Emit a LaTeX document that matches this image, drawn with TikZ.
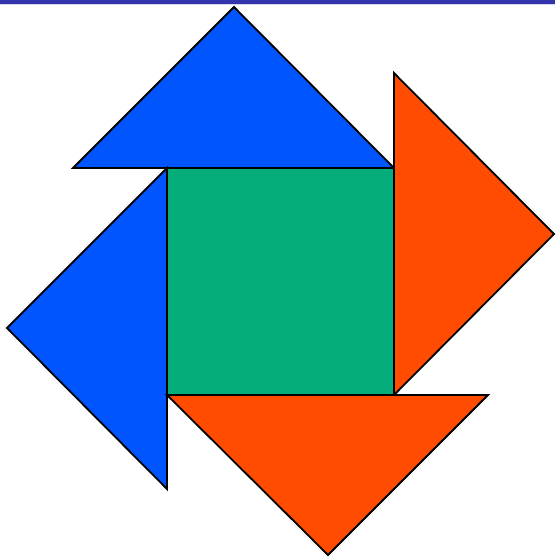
\documentclass[tikz,border=0pt]{standalone}
\definecolor{tblue}{HTML}{0055FF}
\definecolor{torange}{HTML}{FF4C00}
\definecolor{tgreen}{HTML}{05AD7A}
\definecolor{tbar}{HTML}{3333AA}
\tikzset{piece/.style={draw=black,line width=1.8pt,line join=miter}}
\begin{document}
\begin{tikzpicture}[x=1pt,y=-1pt]
\useasboundingbox (0,0) rectangle (555,557);
\fill[tbar] (0,0) rectangle (555,4);
\fill[tbar!20] (0,4) rectangle (555,5);
% top triangle
\filldraw[piece,fill=tblue] (73,168) -- (234,7) -- (394,168) -- cycle;
% left triangle
\filldraw[piece,fill=tblue] (167,168) -- (7,328) -- (167,489) -- cycle;
% right triangle
\filldraw[piece,fill=torange] (394,73) -- (554,234) -- (394,395) -- cycle;
% bottom triangle
\filldraw[piece,fill=torange] (167,395) -- (488,395) -- (328,555) -- cycle;
% square
\filldraw[piece,fill=tgreen] (167,168) rectangle (394,395);
\end{tikzpicture}
\end{document}
